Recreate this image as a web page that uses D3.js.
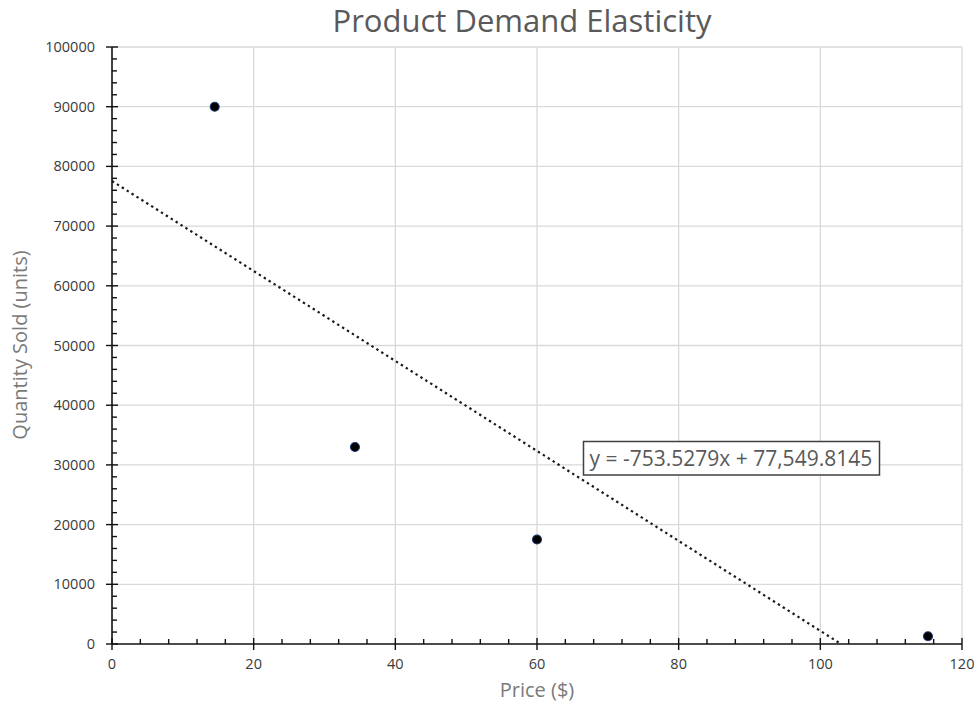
<!DOCTYPE html>
<html>
<head>
<meta charset="utf-8">
<script src="https://cdn.jsdelivr.net/npm/d3@7"></script>
<style>
  html, body { margin: 0; padding: 0; background: #fff; }
  svg { display: block; font-family: "Open Sans", "Noto Sans", sans-serif; }
</style>
</head>
<body>
<svg id="chart" width="980" height="704"></svg>
<script>
// Observed price / quantity pairs
const prices = [14.5, 34.3, 60, 115.2];
const quantities = [90000, 33000, 17500, 1300];

// Linear trendline coefficients (as shown in the equation label)
const slope = -753.5279;
const intercept = 77549.8145;
const equationLabel = "y = -753.5279x + 77,549.8145";

// Axis ticks
const xTicks = [0, 20, 40, 60, 80, 100, 120];
const yTicks = [0, 10000, 20000, 30000, 40000, 50000, 60000, 70000, 80000, 90000, 100000];

const titleText = "Product Demand Elasticity";
const xTitle = "Price ($)";
const yTitle = "Quantity Sold (units)";

const svg = d3.select("#chart");
const plot = { left: 112, right: 962, top: 47, bottom: 644 };

const x = d3.scaleLinear().domain([0, 120]).range([plot.left, plot.right]);
const y = d3.scaleLinear().domain([0, 100000]).range([plot.bottom, plot.top]);

// Gridlines
const grid = svg.append("g").attr("stroke", "#d9d9d9").attr("stroke-width", 1.3);
grid.selectAll("line.v").data(xTicks.filter(d => d > 0)).join("line")
  .attr("x1", d => x(d)).attr("x2", d => x(d))
  .attr("y1", plot.top).attr("y2", plot.bottom);
grid.selectAll("line.h").data(yTicks.filter(d => d > 0)).join("line")
  .attr("x1", plot.left).attr("x2", plot.right)
  .attr("y1", d => y(d)).attr("y2", d => y(d));

// Trendline, from x = 0 to where it reaches zero quantity
const xEnd = -intercept / slope;
svg.append("line")
  .attr("x1", x(0)).attr("y1", y(intercept))
  .attr("x2", x(xEnd)).attr("y2", y(slope * xEnd + intercept))
  .attr("stroke", "#1a1a1a")
  .attr("stroke-width", 2.2)
  .attr("stroke-dasharray", "2.4,3.4");

// Axes: minor ticks inside, major ticks crossing the axis line
const axisColor = "#111";
const xMinor = d3.range(0, 121, 4).filter(d => d % 20 !== 0);
const yMinor = d3.range(0, 100001, 2000).filter(d => d % 10000 !== 0);

const ax = svg.append("g").attr("stroke", axisColor).attr("stroke-width", 1.4);
ax.selectAll("line.xm").data(xMinor).join("line")
  .attr("x1", d => x(d)).attr("x2", d => x(d))
  .attr("y1", plot.bottom).attr("y2", plot.bottom - 5);
ax.selectAll("line.xM").data(xTicks).join("line")
  .attr("x1", d => x(d)).attr("x2", d => x(d))
  .attr("y1", plot.bottom - 6).attr("y2", plot.bottom + 6);
ax.selectAll("line.ym").data(yMinor).join("line")
  .attr("x1", plot.left).attr("x2", plot.left + 5)
  .attr("y1", d => y(d)).attr("y2", d => y(d));
ax.selectAll("line.yM").data(yTicks).join("line")
  .attr("x1", plot.left - 6).attr("x2", plot.left + 6)
  .attr("y1", d => y(d)).attr("y2", d => y(d));
ax.append("line")
  .attr("x1", plot.left).attr("x2", plot.right)
  .attr("y1", plot.bottom).attr("y2", plot.bottom)
  .attr("stroke-width", 1.6);
ax.append("line")
  .attr("x1", plot.left).attr("x2", plot.left)
  .attr("y1", plot.top).attr("y2", plot.bottom)
  .attr("stroke-width", 1.6);

// Tick labels
svg.append("g").selectAll("text").data(xTicks).join("text")
  .attr("x", d => x(d)).attr("y", plot.bottom + 25)
  .attr("text-anchor", "middle")
  .attr("font-size", 14.5).attr("fill", "#3a3a3a")
  .text(d => d);
svg.append("g").selectAll("text").data(yTicks).join("text")
  .attr("x", plot.left - 17).attr("y", d => y(d) + 5)
  .attr("text-anchor", "end")
  .attr("font-size", 14.5).attr("fill", "#3a3a3a")
  .text(d => d);

// Data points
svg.append("g").selectAll("circle").data(prices.map((p, i) => [p, quantities[i]])).join("circle")
  .attr("cx", d => x(d[0])).attr("cy", d => y(d[1]))
  .attr("r", 4.5)
  .attr("fill", "#000")
  .attr("stroke", "#1f3a78")
  .attr("stroke-width", 1.1);

// Equation label
const eqG = svg.append("g");
eqG.append("rect")
  .attr("x", 583.5).attr("y", 441.5)
  .attr("width", 296).attr("height", 33.5)
  .attr("fill", "#fff")
  .attr("stroke", "#404040").attr("stroke-width", 1.5);
eqG.append("text")
  .attr("x", 589.5).attr("y", 465.5)
  .attr("font-size", 21).attr("fill", "#595959")
  .text(equationLabel);

// Titles
svg.append("text")
  .attr("x", 522).attr("y", 32)
  .attr("text-anchor", "middle")
  .attr("font-size", 31).attr("fill", "#595959")
  .text(titleText);
svg.append("text")
  .attr("x", x(60)).attr("y", 697)
  .attr("text-anchor", "middle")
  .attr("font-size", 20).attr("fill", "#7a7a7a")
  .text(xTitle);
svg.append("text")
  .attr("transform", "translate(27,345) rotate(-90)")
  .attr("text-anchor", "middle")
  .attr("font-size", 20).attr("fill", "#7a7a7a")
  .text(yTitle);
</script>
</body>
</html>
